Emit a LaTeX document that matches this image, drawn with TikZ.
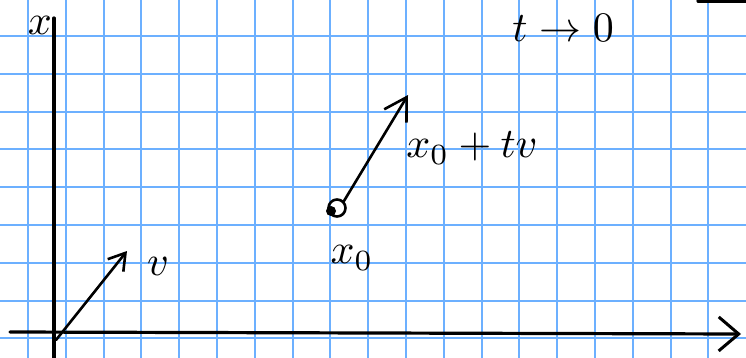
\documentclass[tikz,border=0pt]{standalone}
\usepackage{amsmath}
\usepackage{graphicx}
\usepackage{xcolor}
\usepackage{tikz}
\usetikzlibrary{arrows.meta,positioning}

\definecolor{gridblue}{RGB}{108,176,255}
\newcommand{\bigmath}[1]{\scalebox{4.2}{$#1$}}

\begin{document}
\begin{tikzpicture}[
    x=1pt, y=-1pt,
    gridline/.style={gridblue, line width=2pt},
    axis/.style={line width=3.2pt, line cap=round},
    vec/.style={-{Straight Barb[length=16pt, width=20pt, line width=2.6pt]}, line width=2.6pt, line cap=round},
    lbl/.style={inner sep=0pt}
  ]
    \useasboundingbox (0,0) rectangle (746,358);
    \fill[white] (0,0) rectangle (746,358);
    % squared paper
    \foreach \i in {0,...,18}
      \draw[gridline] (28+37.8*\i,0) -- (28+37.8*\i,358);
    \foreach \j in {0,...,8}
      \draw[gridline] (0,36+37.8*\j) -- (746,36+37.8*\j);
    % axes
    \coordinate (ytop) at (54,18);
    \coordinate (ybot) at (54,358);
    \coordinate (xleft) at (10,332);
    \coordinate (xright) at (741,334);
    \draw[axis] (ybot) -- (ytop);
    \draw[axis, -{Straight Barb[length=20pt, width=34pt, line width=3pt]}] (xleft) -- (xright);
    \node[lbl] (xlab) at (40,25) {\bigmath{x}};
    % stroke cut at the top edge
    \coordinate (cuta) at (698,1);
    \coordinate (cutb) at (746,1);
    \draw[axis] (cuta) -- (cutb);
    % t -> 0
    \node[lbl] (limit) at (563,28) {\bigmath{t\to 0}};
    % vector v at the origin
    \coordinate (orig) at (56,340);
    \coordinate (vtip) at (127,251);
    \draw[vec] (orig) -- (vtip);
    \node[lbl] (vlab) at (158,266) {\bigmath{v}};
    % point x0 and x0+tv
    \node[draw, circle, line width=2.6pt, minimum size=17pt, inner sep=0pt] (x0pt) at (337,208) {};
    \fill (331,211) circle (5pt);
    \coordinate (xtip) at (408,95);
    \draw[vec, -{Straight Barb[length=22pt, width=26pt, line width=2.6pt]}] (x0pt.north east) -- (xtip);
    \node[lbl] (x0lab) at (352,258) {\bigmath{x_0}};
    \node[lbl] (xtlab) at (472,148) {\bigmath{x_0+tv}};
  \end{tikzpicture}
\end{document}
